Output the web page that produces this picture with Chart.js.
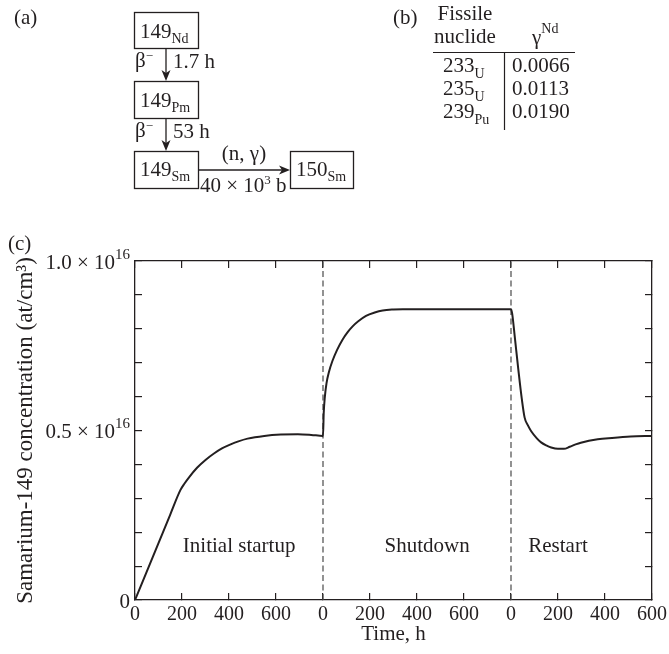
<!DOCTYPE html>
<html>
<head>
<meta charset="utf-8">
<script src="https://cdn.jsdelivr.net/npm/chart.js@4.4.1/dist/chart.umd.min.js"></script>
<style>
  html, body { margin: 0; padding: 0; background: #fff; }
  #wrap { position: relative; width: 669px; height: 654px; }
  #chart { position: absolute; left: 0; top: 0; }
  #panels { position: absolute; left: 0; top: 0; font-family: 'Liberation Serif', serif; }
</style>
</head>
<body>
<div id="wrap">
  <canvas id="chart" width="669" height="654"></canvas>
  <svg id="panels" width="669" height="260" xmlns="http://www.w3.org/2000/svg">
    <g fill="#231f20" font-size="21">
      <!-- (a) decay chain -->
      <text x="14" y="24">(a)</text>
      <g fill="none" stroke="#231f20" stroke-width="1.3">
        <rect x="134.5" y="12.5" width="64" height="36"/>
        <rect x="134.5" y="81.5" width="64" height="37"/>
        <rect x="134.5" y="151.5" width="64" height="37"/>
        <rect x="290.5" y="151.5" width="63" height="37"/>
        <line x1="166" y1="48" x2="166" y2="73"/>
        <line x1="166" y1="118" x2="166" y2="143"/>
        <line x1="198" y1="170" x2="282" y2="170"/>
      </g>
      <path d="M161.5,70 L166,81 L170.5,70 L166,73 Z"/>
      <path d="M161.5,140 L166,151 L170.5,140 L166,143 Z"/>
      <path d="M279,165.5 L290,170 L279,174.5 L282,170 Z"/>
      <text x="140" y="38">149<tspan dy="5" font-size="14">Nd</tspan></text>
      <text x="140" y="107">149<tspan dy="5" font-size="14">Pm</tspan></text>
      <text x="140" y="176">149<tspan dy="5" font-size="14">Sm</tspan></text>
      <text x="296" y="176">150<tspan dy="5" font-size="14">Sm</tspan></text>
      <text x="135" y="67">β<tspan dy="-7" font-size="13">−</tspan></text>
      <text x="173" y="68">1.7 h</text>
      <text x="135" y="137">β<tspan dy="-7" font-size="13">−</tspan></text>
      <text x="173" y="138">53 h</text>
      <text x="244" y="160" text-anchor="middle">(n, γ)</text>
      <text x="200" y="192">40 × 10<tspan dy="-8" font-size="13">3</tspan><tspan dy="8"> b</tspan></text>
      <!-- (b) yield table -->
      <text x="393" y="24">(b)</text>
      <text x="465" y="20" text-anchor="middle">Fissile</text>
      <text x="465" y="43" text-anchor="middle">nuclide</text>
      <text x="532" y="44">γ<tspan dy="-11" font-size="14">Nd</tspan></text>
      <g stroke="#231f20" stroke-width="1.2">
        <line x1="433" y1="52.5" x2="575" y2="52.5"/>
        <line x1="504.5" y1="52" x2="504.5" y2="130"/>
      </g>
      <g id="yieldRows"></g>
      <!-- (c) label -->
      <text x="8" y="250">(c)</text>
    </g>
  </svg>
</div>
<script>
// panel (b): fission yield of 149Nd
const fissileMass = ['233', '235', '239'];
const fissileElem = ['U', 'U', 'Pu'];
const yieldNd = ['0.0066', '0.0113', '0.0190'];

// panel (c): Sm-149 concentration, in units of 1e16 at/cm3, hours from start of each phase
const phaseNames = ['Initial startup', 'Shutdown', 'Restart'];
const phaseStart = [0, 800, 1600];

const startupHours = [0, 50, 100, 150, 193, 210, 230, 264, 300, 336, 370, 407, 440, 479, 550, 621, 693, 750, 800];
const startupSm    = [0, 0.084, 0.168, 0.252, 0.324, 0.343, 0.362, 0.390, 0.413, 0.432, 0.447, 0.459, 0.468, 0.476, 0.484, 0.488, 0.489, 0.487, 0.484];

const shutdownHours = [0, 3, 8, 15, 25, 40, 60, 83, 105, 126, 150, 183, 220, 254, 300, 340, 800];
const shutdownSm    = [0.484, 0.55, 0.60, 0.64, 0.672, 0.705, 0.738, 0.768, 0.79, 0.807, 0.822, 0.838, 0.848, 0.854, 0.857, 0.858, 0.858];

const restartHours = [0, 5, 17, 31, 46, 58, 72, 86, 110, 128, 150, 171, 200, 225, 250, 275, 297, 369, 430, 509, 600];
const restartSm    = [0.858, 0.845, 0.77, 0.681, 0.593, 0.538, 0.515, 0.498, 0.477, 0.465, 0.456, 0.450, 0.446, 0.446, 0.452, 0.459, 0.464, 0.474, 0.478, 0.482, 0.484];

const xTickLabels = ['0', '200', '400', '600', '0', '200', '400', '600', '0', '200', '400', '600'];
// y labels: mantissa and power of ten (empty = minor tick)
const yTickMantissa = ['0', '', '', '', '', '0.5 × 10', '', '', '', '', '1.0 × 10'];
const yTickPower    = ['',  '', '', '', '', '16',       '', '', '', '', '16'];

const ink = '#231f20';
const font = "'Liberation Serif', serif";

// table rows
const rowsG = document.getElementById('yieldRows');
const rowY = [72, 95, 118];
fissileMass.forEach((m, i) => {
  const ns = 'http://www.w3.org/2000/svg';
  const t = document.createElementNS(ns, 'text');
  t.setAttribute('x', 443); t.setAttribute('y', rowY[i]);
  t.innerHTML = m + '<tspan dy="6" font-size="14">' + fissileElem[i] + '</tspan>';
  rowsG.appendChild(t);
  const v = document.createElementNS(ns, 'text');
  v.setAttribute('x', 512); v.setAttribute('y', rowY[i]);
  v.textContent = yieldNd[i];
  rowsG.appendChild(v);
});

// join the three phases on one time axis
const curve = [];
[[startupHours, startupSm], [shutdownHours, shutdownSm], [restartHours, restartSm]].forEach(([hrs, vals], p) => {
  hrs.forEach((h, i) => {
    const x = phaseStart[p] + h;
    if (curve.length && curve[curve.length - 1].x === x) return;
    curve.push({ x: x, y: vals[i] });
  });
});

const dividers = phaseStart.slice(1).map(s => ({
  data: [{ x: s, y: 0 }, { x: s, y: 1 }],
  borderColor: '#4a4a4a',
  borderWidth: 1.2,
  borderDash: [6, 3.5],
  pointRadius: 0
}));

const labelHour = [443, 443, 200];
const phaseLabels = {
  id: 'phaseLabels',
  afterDatasetsDraw(chart) {
    const { ctx, scales: { x, y } } = chart;
    ctx.save();
    ctx.fillStyle = ink;
    ctx.font = '21px ' + font;
    ctx.textAlign = 'center';
    phaseNames.forEach((name, i) => {
      ctx.fillText(name, x.getPixelForValue(phaseStart[i] + labelHour[i]), y.getPixelForValue(0.141));
    });

    // y tick labels with a real superscript
    ctx.textBaseline = 'middle';
    y.ticks.forEach((t, i) => {
      if (!yTickMantissa[i]) return;
      const py = y.getPixelForValue(t.value) + 2;
      let px = y.right - 5;
      ctx.textAlign = 'right';
      if (yTickPower[i]) {
        ctx.font = '15px ' + font;
        ctx.fillText(yTickPower[i], px, py - 8);
        px -= ctx.measureText(yTickPower[i]).width;
      }
      ctx.font = '21px ' + font;
      ctx.fillText(yTickMantissa[i], px, py);
    });
    ctx.restore();
  }
};

const inTicks = { drawOnChartArea: false, tickLength: -7, color: ink, lineWidth: 1.2 };
const frame = { color: ink, width: 1.3 };

new Chart(document.getElementById('chart'), {
  type: 'line',
  data: {
    datasets: [{
      data: curve,
      borderColor: ink,
      borderWidth: 2,
      pointRadius: 0,
      cubicInterpolationMode: 'monotone'
    }, ...dividers]
  },
  options: {
    responsive: false,
    animation: false,
    devicePixelRatio: 1,
    layout: { padding: { top: 261, right: 17, left: 0, bottom: 0 } },
    plugins: { legend: { display: false }, tooltip: { enabled: false } },
    scales: {
      x: {
        type: 'linear', min: 0, max: 2200,
        border: frame,
        grid: inTicks,
        ticks: {
          stepSize: 200, autoSkip: false, maxRotation: 0, padding: 10,
          color: ink, font: { family: font, size: 20 },
          callback: (v, i) => xTickLabels[i]
        },
        title: { display: true, text: 'Time, h', color: ink, font: { family: font, size: 21 }, padding: { top: 0, bottom: 7 } },
        afterFit: s => { s.height = 54; s.paddingLeft = 0; s.paddingRight = 0; }
      },
      xTop: {
        type: 'linear', position: 'top', min: 0, max: 2200,
        border: frame,
        grid: inTicks,
        ticks: { stepSize: 200, display: false },
        afterFit: s => { s.height = 0; s.paddingLeft = 0; s.paddingRight = 0; }
      },
      y: {
        min: 0, max: 1,
        border: frame,
        grid: inTicks,
        ticks: {
          stepSize: 0.1, autoSkip: false,
          callback: () => ''
        },
        title: { display: true, text: 'Samarium-149 concentration (at/cm³)', color: ink, font: { family: font, size: 23 }, padding: { top: 12, bottom: 0 } },
        afterFit: s => { s.width = 135; s.paddingTop = 0; s.paddingBottom = 0; }
      },
      yRight: {
        position: 'right', min: 0, max: 1,
        border: frame,
        grid: inTicks,
        ticks: { stepSize: 0.1, display: false },
        afterFit: s => { s.width = 0; s.paddingTop = 0; s.paddingBottom = 0; }
      }
    }
  },
  plugins: [phaseLabels]
});
</script>
</body>
</html>
